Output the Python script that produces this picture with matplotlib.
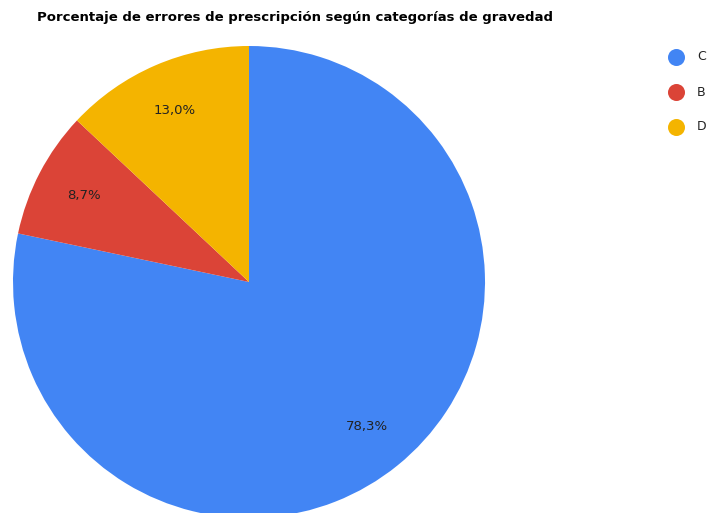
import matplotlib.pyplot as plt

# datos
categorias = ["C", "B", "D"]
porcentajes = [78.3, 8.7, 13.0]
colores = ["#4285F4", "#DB4437", "#F4B400"]
titulo = "Porcentaje de errores de prescripción según categorías de gravedad"

W, H = 711, 513
fig = plt.figure(figsize=(W / 100, H / 100), dpi=100)
ax = fig.add_axes([0, 0, 1, 1])

cx, cy, r = 249, H - 282, 236
wedges, _, autotexts = ax.pie(
    porcentajes, colors=colores, startangle=90, counterclock=False,
    center=(cx, cy), radius=r, frame=True, pctdistance=0.79,
    autopct=lambda p: f"{p:.1f}%".replace(".", ","),
    textprops=dict(fontsize=9.5, color="#222222"),
    wedgeprops=dict(linewidth=0))
ax.set_xlim(0, W)
ax.set_ylim(0, H)
ax.set_aspect("equal")
ax.axis("off")

fig.text(37 / W, 1 - 18 / H, titulo, fontsize=9.5, fontweight="bold",
         ha="left", va="center")

# leyenda
for i, (c, col) in enumerate(zip(categorias, colores)):
    y = H - (57 + 35 * i)
    ax.scatter([676], [y], s=150, color=col, linewidths=0)
    ax.text(697, y, c, fontsize=9, ha="left", va="center", color="#222222")

fig.savefig("out.png", dpi=100)
